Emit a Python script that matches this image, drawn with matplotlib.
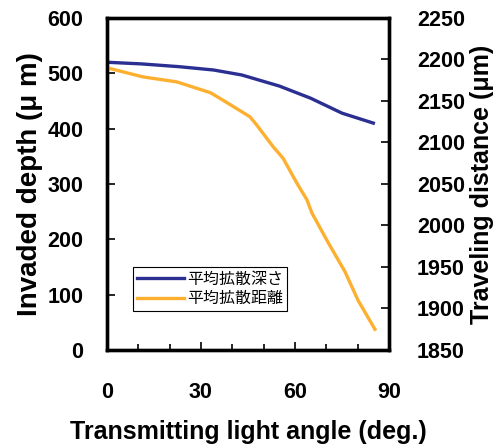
import matplotlib.pyplot as plt
from matplotlib.ticker import MultipleLocator

plt.rcParams['font.family'] = ['Liberation Sans', 'DejaVu Sans']

# invaded depth (left axis, um)
depth_angle = [0, 11, 23, 34, 43, 55, 65, 75, 85]
depth_um = [520, 517, 512, 506, 497, 477, 455, 428, 410]

# traveling distance (right axis, um)
dist_angle = [0, 11.5, 22.3, 33, 37, 45.6, 47.8, 53, 56.2, 60.6, 63.8, 65.4, 70.5, 76, 80.1, 85.5]
dist_um = [2190, 2179, 2173, 2160, 2151, 2131, 2121, 2095, 2081, 2051, 2031, 2015, 1980, 1944, 1910, 1875]

blue = '#2B2F92'
orange = '#FDB030'

fig = plt.figure(figsize=(5.02, 4.45), dpi=100)
ax = fig.add_axes([0.2131, 0.2135, 0.5618, 0.7461])
ax2 = ax.twinx()

l1, = ax.plot(depth_angle, depth_um, color=blue, lw=2.4, label='平均拡散深さ')
l2, = ax2.plot(dist_angle, dist_um, color=orange, lw=2.4, label='平均拡散距離')

ax.set_xlim(0, 90)
ax.set_ylim(0, 600)
ax2.set_ylim(1850, 2250)
ax.xaxis.set_major_locator(MultipleLocator(30))
ax.xaxis.set_minor_locator(MultipleLocator(10))
ax.yaxis.set_major_locator(MultipleLocator(100))
ax2.yaxis.set_major_locator(MultipleLocator(50))

for a in (ax, ax2):
    for s in a.spines.values():
        s.set_linewidth(2.4)
    a.tick_params(direction='in', width=1.2, length=6, labelsize=15.5)
    a.tick_params(which='minor', direction='in', width=1.2, length=4)
    for lab in a.get_xticklabels() + a.get_yticklabels():
        lab.set_fontweight('bold')
ax.tick_params(axis='x', pad=23)
ax.tick_params(axis='y', pad=17)
ax2.tick_params(axis='y', pad=20)

ax.set_xlabel('Transmitting light angle (deg.)', fontsize=18, fontweight='bold', labelpad=12)
ax.set_ylabel('Invaded depth (μ m)', fontsize=20, fontweight='bold', labelpad=3)
ax2.set_ylabel('Traveling distance (μm)', fontsize=18, fontweight='bold', labelpad=4)

leg = ax.legend(handles=[l1, l2], loc='lower left', bbox_to_anchor=(0.093, 0.117),
                prop={'family': ['Noto Sans CJK JP', 'DejaVu Sans'], 'size': 11.5},
                frameon=True, fancybox=False, edgecolor='black', framealpha=1,
                handlelength=2.9, handletextpad=0.2, borderpad=0.25, labelspacing=0.15,
                borderaxespad=0)
leg.get_frame().set_linewidth(0.8)

fig.savefig('out.png', dpi=100)
